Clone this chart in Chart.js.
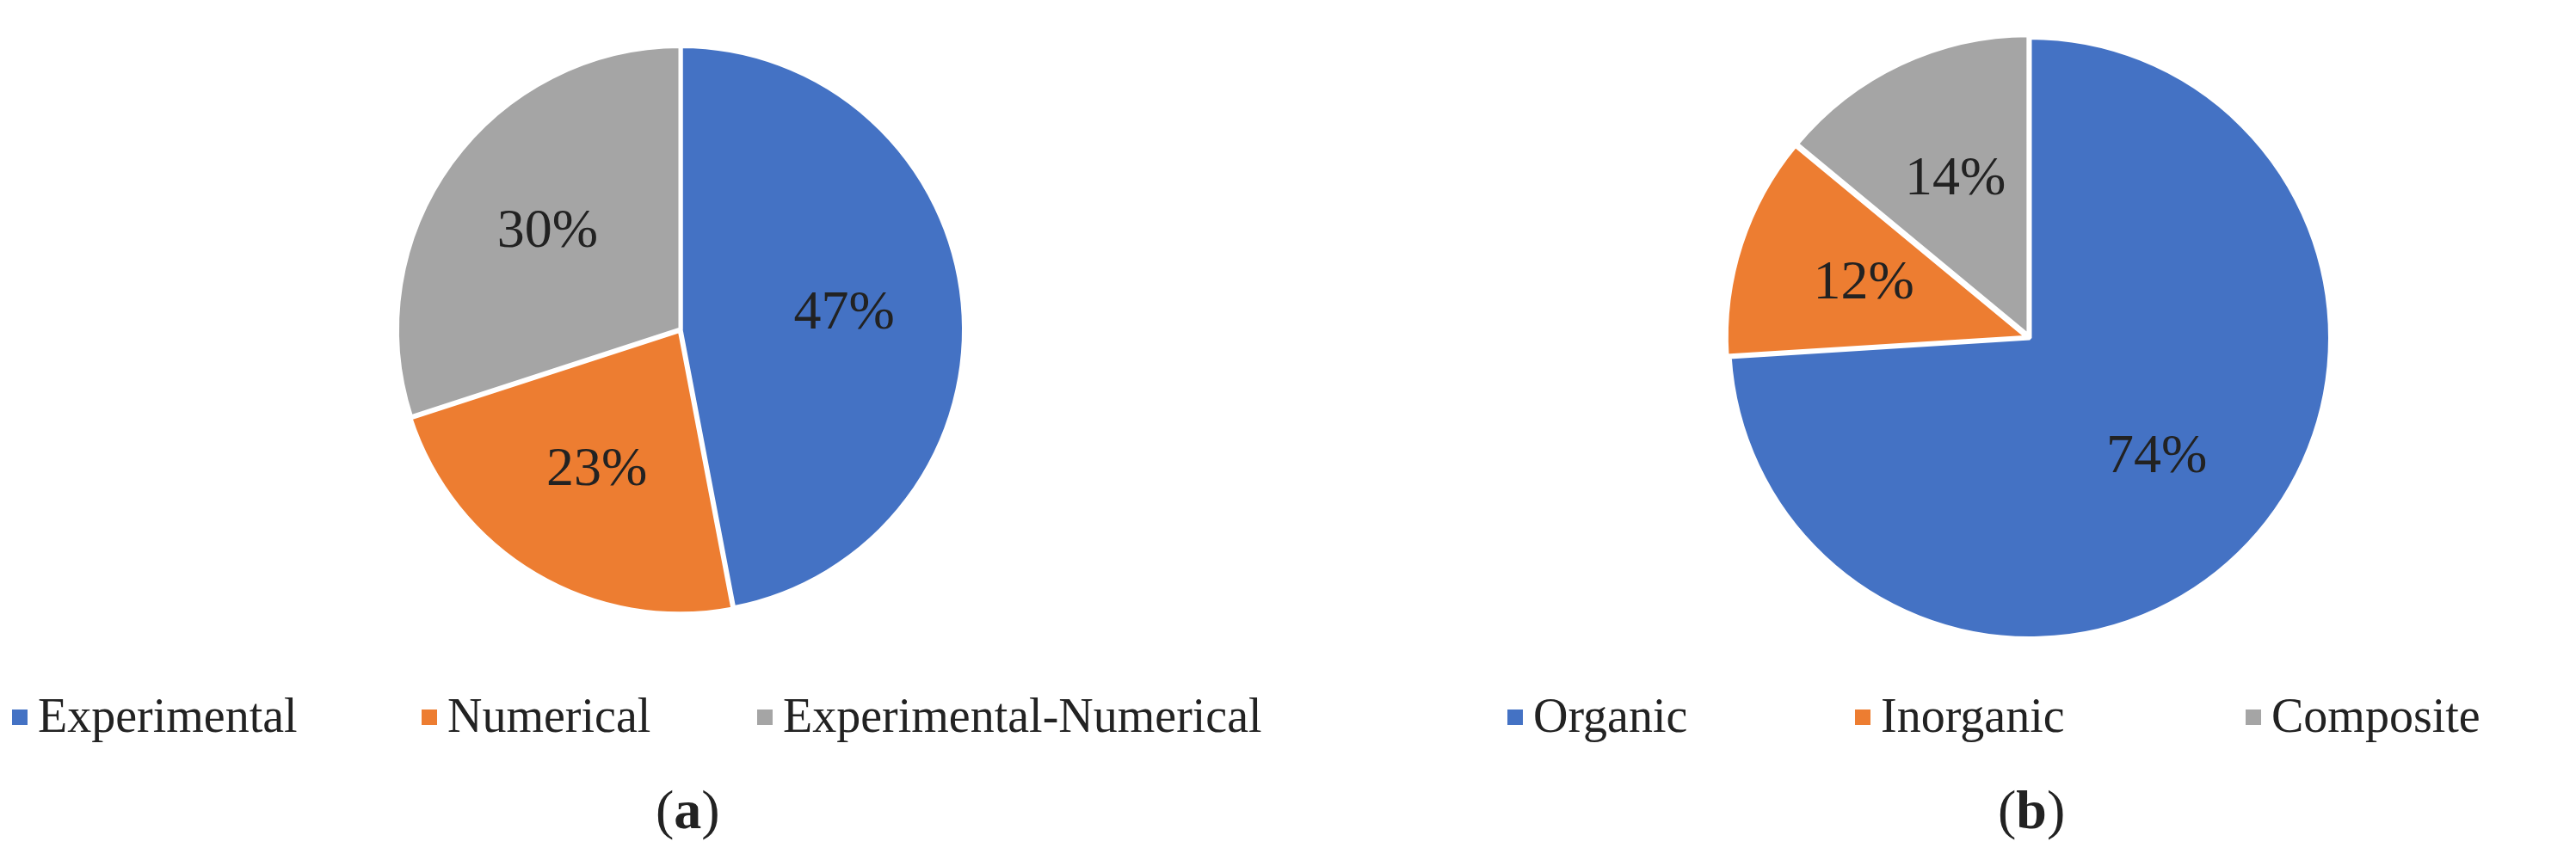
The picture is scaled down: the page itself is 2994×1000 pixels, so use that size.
<!DOCTYPE html>
<html>
<head>
<meta charset="utf-8">
<script src="https://cdn.jsdelivr.net/npm/chart.js@4"></script>
<style>
  body { margin: 0; width: 2994px; height: 1000px; background: #fff; position: relative; overflow: hidden;
         font-family: "Liberation Serif", "DejaVu Serif", serif; color: #222; }
  .box { position: absolute; }
  .leg { position: absolute; top: 800px; font-size: 56px; white-space: nowrap; line-height: 64px; }
  .leg span.sq { display: inline-block; width: 18px; height: 18px; margin-right: 12px; vertical-align: middle; position: relative; top: -4px; }
  .cap { position: absolute; top: 905px; font-size: 64px; }
</style>
</head>
<body>
<div class="box" style="left:448px;top:40px;width:686px;height:686px"><canvas id="pieA"></canvas></div>
<div class="box" style="left:1994px;top:28px;width:730px;height:730px"><canvas id="pieB"></canvas></div>
<div id="legA"></div>
<div id="legB"></div>
<div class="cap" style="left:762px">(<b>a</b>)</div>
<div class="cap" style="left:2322px">(<b>b</b>)</div>
<script>
const colors = ["#4472C4", "#ED7D31", "#A5A5A5"];

const methodLabels = ["Experimental", "Numerical", "Experimental-Numerical"];
const methodValues = [47, 23, 30];
const methodLegendX = [14, 490, 880];

const materialLabels = ["Organic", "Inorganic", "Composite"];
const materialValues = [74, 12, 14];
const materialLegendX = [1752, 2156, 2610];

// percent labels drawn inside each slice
const sliceLabels = {
    id: "sliceLabels",
    afterDatasetsDraw(chart) {
        const c = chart.ctx;
        const meta = chart.getDatasetMeta(0);
        c.save();
        c.font = "64px 'Liberation Serif'";
        c.fillStyle = "#222";
        c.textAlign = "center";
        c.textBaseline = "middle";
        meta.data.forEach((arc, i) => {
            const p = arc.getCenterPoint ? null : null;
            const mid = (arc.startAngle + arc.endAngle) / 2;
            const r = arc.outerRadius * 0.58;
            c.fillText(chart.data.datasets[0].data[i] + "%",
                arc.x + Math.cos(mid) * r, arc.y + Math.sin(mid) * r);
        });
        c.restore();
    }
};

function makePie(id, labels, values, offsets) {
    new Chart(document.getElementById(id), {
        type: "pie",
        data: {
            labels: labels,
            datasets: [{ data: values, backgroundColor: colors, borderColor: "#fff", borderWidth: 5, offset: offsets }]
        },
        options: {
            animation: false,
            responsive: true,
            maintainAspectRatio: false,
            layout: { padding: 8 },
            plugins: { legend: { display: false }, tooltip: { enabled: false } }
        },
        plugins: [sliceLabels]
    });
}

function makeLegend(id, labels, xs) {
    const el = document.getElementById(id);
    labels.forEach((l, i) => {
        const d = document.createElement("div");
        d.className = "leg";
        d.style.left = xs[i] + "px";
        d.innerHTML = '<span class="sq" style="background:' + colors[i] + '"></span>' + l;
        el.appendChild(d);
    });
}

makePie("pieA", methodLabels, methodValues, [0, 6, 0]);
makePie("pieB", materialLabels, materialValues, [0, 10, 10]);
makeLegend("legA", methodLabels, methodLegendX);
makeLegend("legB", materialLabels, materialLegendX);
</script>
</body>
</html>
